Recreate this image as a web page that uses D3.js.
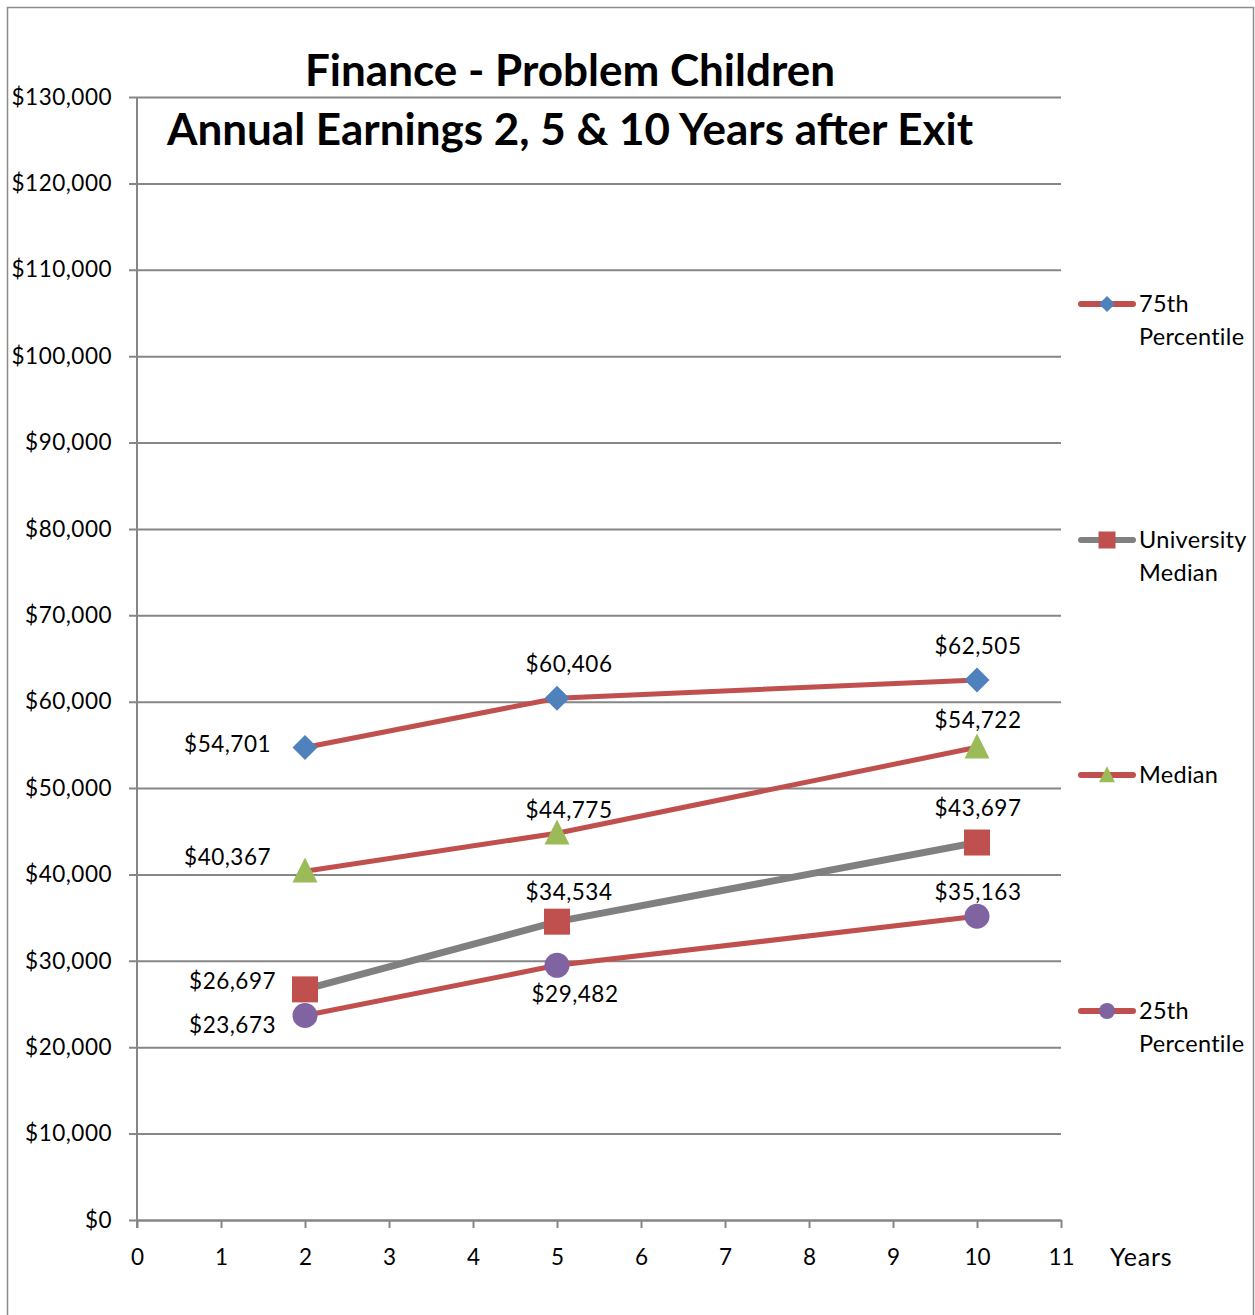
<!DOCTYPE html>
<html>
<head>
<meta charset="utf-8">
<script src="https://cdn.jsdelivr.net/npm/d3@7"></script>
<style>
  body { margin: 0; background: #fff; }
  svg text { font-family: Lato, "Open Sans", sans-serif; fill: #000; }
</style>
</head>
<body>
<div id="chart"></div>
<script>
// Chart data
var years = [2, 5, 10];
var seriesNames = ['75th Percentile', 'University Median', 'Median', '25th Percentile'];
var p75 = [54701, 60406, 62505];
var uniMedian = [26697, 34534, 43697];
var median = [40367, 44775, 54722];
var p25 = [23673, 29482, 35163];
var yTicks = d3.range(0, 130001, 10000);
var xTicks = d3.range(0, 12);

// Where each value label sits relative to its point
var labelPlace = [
  ['left', 'above', 'above'],
  ['left', 'above', 'above'],
  ['left', 'above', 'above'],
  ['left', 'below', 'above']
];

var width = 1255,
  height = 1315,
  margin = {top: 97, right: 194, bottom: 95, left: 137};

var series = [
  {name: seriesNames[0], values: p75, line: '#C0504D', lw: 5, marker: 'diamond', fill: '#4F81BD', size: 25, lift: -26},
  {name: seriesNames[1], values: uniMedian, line: '#808080', lw: 7, marker: 'square', fill: '#C0504D', size: 26, lift: -22},
  {name: seriesNames[2], values: median, line: '#C0504D', lw: 5, marker: 'triangle', fill: '#9BBB59', size: 25, lift: -15},
  {name: seriesNames[3], values: p25, line: '#C0504D', lw: 5, marker: 'circle', fill: '#8064A2', size: 25, lift: -16}
];

var svg = d3.select('#chart').append('svg')
  .attr('width', width)
  .attr('height', height);

// Outer chart border
svg.append('rect')
  .attr('x', 7.5).attr('y', 7.5)
  .attr('width', 1246).attr('height', 1330)
  .attr('fill', 'none')
  .attr('stroke', '#8c8c8c')
  .attr('stroke-width', 1.5);

var x = d3.scaleLinear().domain([0, 11]).range([margin.left, width - margin.right]);
var y = d3.scaleLinear().domain([0, 130000]).range([height - margin.bottom, margin.top]);

var fmt = function (v) { return '$' + d3.format(',')(v); };

// Gridlines + y axis
var yAxis = d3.axisLeft(y)
  .tickValues(yTicks)
  .tickFormat(fmt)
  .tickSize(-(x(11) - x(0)))
  .tickPadding(25);

var gy = svg.append('g')
  .attr('transform', 'translate(' + x(0) + ',0)')
  .call(yAxis);
gy.select('.domain').remove();
gy.selectAll('.tick line')
  .attr('x1', -8)
  .attr('stroke', '#868686')
  .attr('stroke-width', 2);
gy.selectAll('.tick text')
  .attr('font-size', 22.5)
  .attr('letter-spacing', 0.5)
  .attr('x', -25)
  .attr('dy', '0.32em');

// Vertical axis line
svg.append('line')
  .attr('x1', x(0)).attr('x2', x(0))
  .attr('y1', y(130000)).attr('y2', y(0) + 8)
  .attr('stroke', '#868686')
  .attr('stroke-width', 2);

// X axis
var xAxis = d3.axisBottom(x)
  .tickValues(xTicks)
  .tickFormat(d3.format('d'))
  .tickSizeInner(8)
  .tickSizeOuter(0)
  .tickPadding(21);

var gx = svg.append('g')
  .attr('transform', 'translate(0,' + y(0) + ')')
  .call(xAxis);
gx.select('.domain').attr('stroke', '#868686').attr('stroke-width', 2);
gx.selectAll('.tick line').attr('stroke', '#868686').attr('stroke-width', 2);
gx.selectAll('.tick text').attr('font-size', 22.5);

svg.append('text')
  .attr('x', 1110)
  .attr('y', 1266)
  .attr('font-size', 25)
  .attr('letter-spacing', 0.8)
  .text('Years');

// Title
svg.append('text')
  .attr('x', 570).attr('y', 86)
  .attr('text-anchor', 'middle')
  .attr('font-size', 44)
  .attr('font-weight', 'bold')
  .text('Finance - Problem Children');
svg.append('text')
  .attr('x', 570).attr('y', 145)
  .attr('text-anchor', 'middle')
  .attr('font-size', 44)
  .attr('font-weight', 'bold')
  .text('Annual Earnings 2, 5 & 10 Years after Exit');

// Marker drawing helper
function drawMarker(g, type, color, s) {
  if (type === 'diamond') {
    g.append('path')
      .attr('d', 'M0,' + (-s / 2) + 'L' + (s / 2) + ',0L0,' + (s / 2) + 'L' + (-s / 2) + ',0Z')
      .attr('fill', color);
  } else if (type === 'square') {
    g.append('rect')
      .attr('x', -s / 2).attr('y', -s / 2)
      .attr('width', s).attr('height', s)
      .attr('fill', color);
  } else if (type === 'triangle') {
    g.append('path')
      .attr('d', 'M0,' + (-s * 0.55) + 'L' + (s / 2) + ',' + (s * 0.45) + 'L' + (-s / 2) + ',' + (s * 0.45) + 'Z')
      .attr('fill', color);
  } else {
    g.append('circle').attr('r', s / 2).attr('fill', color);
  }
}

var line = d3.line()
  .x(function (d, i) { return x(years[i]); })
  .y(function (d) { return y(d); });

// Lines first, then markers
series.forEach(function (s) {
  svg.append('path')
    .datum(s.values)
    .attr('d', line)
    .attr('fill', 'none')
    .attr('stroke', s.line)
    .attr('stroke-width', s.lw);
});

series.forEach(function (s, si) {
  s.values.forEach(function (v, i) {
    var g = svg.append('g')
      .attr('transform', 'translate(' + x(years[i]) + ',' + y(v) + ')');
    drawMarker(g, s.marker, s.fill, s.size);

    var place = labelPlace[si][i];
    var t = g.append('text')
      .attr('font-size', 22.5)
      .attr('letter-spacing', 0.5)
      .text(fmt(v));
    if (place === 'left') {
      t.attr('text-anchor', 'end').attr('x', -34).attr('y', -3).attr('dy', '0.32em');
      if (si === 1) t.attr('y', -8).attr('x', -29);
      if (si === 2) t.attr('y', -13);
      if (si === 3) t.attr('y', 10).attr('x', -29);
    } else if (place === 'above') {
      t.attr('text-anchor', 'middle').attr('x', i === 1 ? 12 : 1).attr('y', s.lift);
      if (si === 1 && i === 2) t.attr('y', -27);
      if (si === 2 && i === 2) t.attr('y', -19);
    } else {
      t.attr('text-anchor', 'middle').attr('x', 18).attr('y', 37);
    }
  });
});

// Legend
var legendY = [304, 540, 775, 1011];
series.forEach(function (s, i) {
  var g = svg.append('g')
    .attr('transform', 'translate(1107,' + legendY[i] + ')');
  g.append('line')
    .attr('x1', -26).attr('x2', 26)
    .attr('stroke', s.line)
    .attr('stroke-width', 6)
    .attr('stroke-linecap', 'round');
  drawMarker(g, s.marker, s.fill, s.marker === 'square' ? 17 : 16);
  var words = s.name.split(' ');
  var first = words.slice(0, words.length - 1).join(' ');
  var last = words[words.length - 1];
  var lines = s.name === 'Median' ? ['Median'] : [first, last];
  var t = g.append('text')
    .attr('x', 32)
    .attr('y', 8)
    .attr('font-size', 23.5)
    .attr('letter-spacing', 0.3);
  lines.forEach(function (l, k) {
    t.append('tspan')
      .attr('x', 32)
      .attr('dy', k === 0 ? 0 : 33)
      .text(l);
  });
});
</script>
</body>
</html>
